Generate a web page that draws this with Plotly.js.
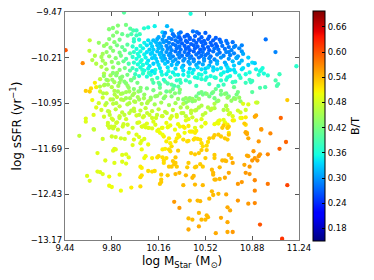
<!DOCTYPE html>
<html>
<head>
<meta charset="utf-8">
<script src="https://cdn.plot.ly/plotly-3.0.1.min.js"></script>
<style>html,body{margin:0;padding:0;background:#fff;}#chart{width:374px;height:280px;}</style>
</head>
<body>
<div id="chart"></div>
<script>
// Each point: [log M_Star, log sSFR, B/T]
const outlierPts = [
[9.445,-10.09,.60],[9.576,-10.30,.57],[9.63,-9.93,.47],[9.70,-9.97,.44],[9.628,-10.10,.47],[9.67,-10.18,.46],
[9.65,-10.25,.46],[9.68,-10.31,.46],[9.67,-10.62,.51],[9.60,-10.75,.53],[9.63,-10.76,.53],[9.64,-10.71,.52],
[9.65,-10.90,.50],[9.68,-11.02,.49],[9.66,-11.14,.49],[9.60,-11.20,.49],[9.60,-11.25,.49],
[9.73,-10.15,.45],[9.73,-10.26,.45],[9.75,-10.31,.45],[9.68,-10.69,.51],[9.663,-11.38,.48]
];
const topPts = [
[9.894,-9.48,.40],[9.909,-9.68,.42],[9.847,-9.69,.43],[9.809,-9.73,.43],[9.779,-9.75,.43],[9.839,-9.80,.43],
[9.942,-9.74,.40],[9.965,-9.77,.39],[9.99,-9.77,.38],[10.048,-9.735,.37],[10.13,-9.70,.35],[10.225,-9.70,.32],
[10.316,-9.82,.29],[10.015,-9.83,.38],[9.922,-9.855,.41],[10.406,-9.50,.36],[10.424,-9.785,.28],[10.454,-9.795,.28],
[10.386,-9.855,.28],[10.984,-9.915,.28],[11.059,-10.12,.29],
[9.81,-9.855,.43],[9.78,-9.91,.43],[9.76,-9.99,.44],[9.82,-9.96,.43],[9.86,-9.92,.42],[9.88,-9.83,.41],
[9.95,-9.83,.39],[9.97,-9.91,.38],[9.99,-9.85,.38],[10.08,-9.72,.36],[10.19,-9.80,.33],[10.26,-9.77,.31],[10.31,-9.88,.29]
];
const greenBandPts = [
[9.74,-10.02,.44],[9.79,-10.05,.43],[9.84,-10.01,.42],[9.88,-10.04,.41],[9.92,-10.00,.40],[9.76,-10.12,.44],
[9.81,-10.10,.43],[9.86,-10.13,.42],[9.90,-10.09,.41],[9.94,-10.14,.39],[9.72,-10.20,.45],[9.78,-10.19,.44],
[9.83,-10.22,.43],[9.87,-10.18,.42],[9.91,-10.23,.40],[9.80,-10.28,.44],[9.85,-10.30,.43],[9.89,-10.27,.41],[9.93,-10.31,.39],
[9.72,-10.36,.46],[9.76,-10.40,.45],[9.81,-10.37,.44],[9.86,-10.41,.43],[9.90,-10.38,.42],[9.94,-10.42,.40],
[9.74,-10.47,.46],[9.79,-10.50,.45],[9.84,-10.46,.44],[9.88,-10.52,.43],[9.92,-10.49,.42],[9.71,-10.56,.47],
[9.77,-10.58,.46],[9.82,-10.61,.45],[9.87,-10.57,.44],[9.91,-10.63,.43],[9.95,-10.58,.42],[9.74,-10.66,.47],
[9.80,-10.69,.46],[9.85,-10.67,.45],[9.93,-10.70,.44],
[9.71,-10.76,.48],[9.76,-10.79,.47],[9.82,-10.75,.46],[9.87,-10.80,.46],[9.91,-10.77,.45],[9.73,-10.86,.48],
[9.79,-10.89,.47],[9.84,-10.85,.47],[9.89,-10.90,.46],[9.94,-10.87,.45],[9.70,-10.95,.48],[9.75,-10.98,.48],
[9.81,-10.96,.47],[9.86,-11.00,.47],[9.92,-10.97,.46],[9.72,-11.06,.48],[9.78,-11.09,.48],[9.83,-11.05,.47],
[9.88,-11.10,.47],[9.95,-11.07,.46],[9.74,-11.17,.48],[9.80,-11.20,.48],[9.86,-11.16,.48],[9.91,-11.21,.48],
[9.77,-11.27,.48],[9.84,-11.26,.48],[9.89,-11.29,.48]
];
const midLeftPts = [
[9.739,-10.51,.44],[9.759,-10.57,.44],[9.746,-10.65,.45],[9.771,-10.65,.45],[9.804,-10.57,.44],[9.834,-10.50,.43],
[9.809,-10.46,.43],[9.864,-10.54,.43],[9.859,-10.62,.44],[9.897,-10.60,.43],[9.922,-10.67,.44],[9.947,-10.57,.42],
[9.972,-10.54,.41],[9.997,-10.62,.42],[10.022,-10.70,.43],[10.005,-10.76,.44],[9.972,-10.79,.45],[9.935,-10.76,.45],
[9.884,-10.79,.45],[9.847,-10.76,.45],[9.822,-10.81,.46],[9.809,-10.89,.46],[9.834,-10.95,.46],[9.872,-10.89,.46],
[9.909,-10.87,.45],[9.935,-10.95,.46],[9.972,-10.92,.46],[10.010,-10.89,.45],[10.047,-10.87,.45],[10.072,-10.95,.46],
[10.098,-10.89,.45],[10.135,-10.84,.44],[10.173,-10.79,.44],[10.211,-10.84,.44],[10.249,-10.76,.43],[10.286,-10.79,.43],
[10.324,-10.73,.43],[9.771,-11.08,.47],[9.784,-11.14,.47],[9.809,-11.22,.48],[9.834,-11.27,.48],[9.859,-11.19,.47],
[9.897,-11.14,.47],[9.935,-11.11,.47],[9.972,-11.08,.47],[10.010,-11.14,.47],[10.047,-11.16,.48],[10.072,-11.11,.47],
[10.110,-11.19,.48],[10.148,-11.14,.47],[10.186,-11.16,.48],[10.223,-11.11,.47],[10.261,-11.16,.48],[10.299,-11.14,.48],
[10.336,-11.11,.47],[9.796,-11.33,.48],[9.847,-11.38,.48],[9.884,-11.33,.48],[9.922,-11.30,.48],[9.960,-11.35,.48],
[9.997,-11.27,.48],[10.035,-11.33,.48],[10.085,-11.35,.49],[10.135,-11.30,.49],[10.186,-11.35,.49],[10.236,-11.33,.49],
[10.286,-11.38,.50],[10.324,-11.33,.50],[9.759,-10.95,.46],[9.734,-10.79,.46],[9.709,-10.68,.46],
[10.035,-10.41,.38],[10.085,-10.46,.38],[10.135,-10.41,.36],[10.186,-10.49,.37],[10.236,-10.43,.36],[10.286,-10.49,.37],
[10.324,-10.57,.38],[10.110,-10.57,.40],[10.161,-10.62,.40],[10.211,-10.60,.40],[10.261,-10.65,.40],[10.311,-10.68,.40]
];
const cyanCorePts = [
[9.97,-9.95,.37],[10.01,-9.92,.36],[10.05,-9.97,.35],[10.08,-9.93,.34],
[9.96,-10.03,.37],[9.99,-10.07,.36],[10.02,-10.02,.36],[10.04,-10.06,.35],[10.07,-10.01,.34],[10.09,-10.08,.33],
[9.97,-10.12,.37],[10.00,-10.15,.36],[10.02,-10.11,.36],[10.05,-10.16,.35],[10.07,-10.12,.34],[10.10,-10.15,.33],
[9.96,-10.20,.37],[9.99,-10.23,.36],[10.01,-10.19,.36],[10.03,-10.25,.36],[10.06,-10.21,.35],[10.08,-10.26,.34],[10.11,-10.22,.33],
[9.97,-10.29,.37],[10.00,-10.32,.36],[10.02,-10.28,.36],[10.04,-10.33,.36],[10.07,-10.30,.35],[10.09,-10.35,.34],[10.12,-10.31,.33],
[9.96,-10.38,.38],[9.99,-10.41,.37],[10.02,-10.37,.36],[10.05,-10.42,.36],[10.08,-10.39,.35],[10.11,-10.43,.34],
[9.98,-10.48,.38],[10.01,-10.51,.37],[10.04,-10.47,.37],[10.07,-10.52,.36],[10.10,-10.49,.36]
];
const blueCorePts = [
[10.21,-9.81,.29],[10.27,-9.83,.28],[10.33,-9.80,.28],[10.38,-9.84,.27],[10.47,-9.82,.27],[10.52,-9.81,.27],
[10.16,-9.88,.31],[10.20,-9.86,.30],[10.24,-9.89,.29],[10.28,-9.86,.28],[10.32,-9.88,.27],[10.36,-9.87,.27],
[10.40,-9.89,.27],[10.44,-9.86,.27],[10.49,-9.88,.27],[10.55,-9.87,.27],[10.60,-9.89,.27],
[10.12,-9.93,.32],[10.15,-9.91,.31],[10.19,-9.92,.30],[10.22,-9.94,.29],[10.26,-9.91,.28],[10.29,-9.93,.28],
[10.33,-9.92,.27],[10.37,-9.94,.27],[10.40,-9.91,.27],[10.43,-9.93,.27],[10.47,-9.92,.27],[10.51,-9.94,.27],
[10.54,-9.91,.27],[10.58,-9.93,.27],[10.63,-9.92,.27],[10.68,-9.94,.28],
[10.10,-9.98,.33],[10.14,-9.96,.32],[10.17,-9.98,.31],[10.20,-9.96,.30],[10.24,-9.97,.29],[10.27,-9.99,.28],
[10.31,-9.96,.28],[10.34,-9.98,.27],[10.38,-9.96,.27],[10.41,-9.99,.27],[10.45,-9.97,.27],[10.49,-9.96,.27],
[10.52,-9.98,.27],[10.56,-9.97,.27],[10.60,-9.99,.27],[10.64,-9.96,.28],[10.69,-9.98,.28],[10.73,-9.96,.28],
[10.11,-10.03,.33],[10.15,-10.01,.32],[10.18,-10.03,.31],[10.22,-10.02,.29],[10.25,-10.04,.29],[10.29,-10.01,.28],
[10.32,-10.03,.28],[10.36,-10.02,.27],[10.39,-10.04,.27],[10.43,-10.01,.27],[10.46,-10.03,.27],[10.50,-10.02,.27],
[10.54,-10.04,.27],[10.57,-10.01,.27],[10.61,-10.03,.27],[10.65,-10.02,.28],[10.70,-10.04,.28],[10.75,-10.02,.29],
[10.12,-10.08,.33],[10.16,-10.06,.32],[10.19,-10.08,.31],[10.23,-10.07,.29],[10.26,-10.09,.29],[10.30,-10.06,.28],
[10.33,-10.08,.28],[10.37,-10.07,.27],[10.40,-10.09,.27],[10.44,-10.06,.27],[10.48,-10.08,.27],[10.51,-10.07,.27],
[10.55,-10.09,.27],[10.59,-10.06,.28],[10.62,-10.08,.28],[10.67,-10.07,.28],[10.72,-10.09,.29],[10.78,-10.06,.29],
[10.11,-10.13,.33],[10.15,-10.11,.32],[10.18,-10.13,.31],[10.22,-10.12,.30],[10.25,-10.14,.29],[10.29,-10.11,.28],
[10.32,-10.13,.28],[10.36,-10.12,.28],[10.39,-10.14,.27],[10.43,-10.11,.27],[10.47,-10.13,.27],[10.50,-10.12,.28],
[10.54,-10.14,.28],[10.58,-10.11,.28],[10.63,-10.13,.28],[10.68,-10.12,.29],[10.74,-10.14,.29],[10.80,-10.11,.30],
[10.13,-10.18,.33],[10.17,-10.16,.32],[10.20,-10.18,.31],[10.24,-10.17,.30],[10.27,-10.19,.29],[10.31,-10.16,.29],
[10.34,-10.18,.28],[10.38,-10.17,.28],[10.41,-10.19,.28],[10.45,-10.16,.28],[10.49,-10.18,.28],[10.52,-10.17,.28],
[10.56,-10.19,.28],[10.61,-10.16,.29],[10.66,-10.18,.29],[10.71,-10.17,.29],[10.77,-10.19,.30],
[10.14,-10.23,.33],[10.18,-10.21,.32],[10.21,-10.23,.31],[10.25,-10.22,.30],[10.29,-10.24,.30],[10.32,-10.21,.29],
[10.36,-10.23,.29],[10.40,-10.22,.29],[10.43,-10.24,.28],[10.47,-10.21,.28],[10.51,-10.23,.29],[10.55,-10.22,.29],
[10.59,-10.24,.29],[10.64,-10.21,.30],[10.70,-10.23,.30],[10.76,-10.22,.31],
[10.15,-10.28,.33],[10.19,-10.26,.32],[10.23,-10.28,.31],[10.27,-10.27,.31],[10.31,-10.29,.30],[10.35,-10.26,.30],
[10.39,-10.28,.30],[10.43,-10.27,.30],[10.47,-10.29,.30],[10.51,-10.26,.30],[10.56,-10.28,.30],[10.61,-10.27,.31],
[10.67,-10.29,.31],[10.73,-10.27,.32],
[10.16,-10.33,.34],[10.21,-10.31,.33],[10.26,-10.33,.32],[10.30,-10.32,.32],[10.35,-10.34,.31],[10.40,-10.31,.31],
[10.45,-10.33,.31],[10.50,-10.32,.31],[10.55,-10.34,.31],[10.61,-10.31,.32],[10.68,-10.33,.32],
[10.17,-10.38,.34],[10.23,-10.37,.34],[10.29,-10.39,.33],[10.34,-10.37,.33],[10.40,-10.39,.33],[10.46,-10.37,.33],
[10.52,-10.39,.33],[10.58,-10.37,.33],[10.64,-10.38,.34]
];
const fringePts = [
[10.35,-10.42,.34],[10.39,-10.45,.35],[10.43,-10.41,.34],[10.47,-10.48,.36],[10.49,-10.40,.34],[10.52,-10.45,.35],
[10.54,-10.37,.34],[10.58,-10.42,.34],[10.61,-10.40,.34],[10.64,-10.48,.36],[10.66,-10.45,.35],[10.69,-10.37,.34],
[10.71,-10.41,.34],[10.74,-10.34,.33],[10.75,-10.45,.35],[10.78,-10.50,.36],[10.80,-10.40,.34],[10.83,-10.48,.36],
[10.44,-10.53,.36],[10.49,-10.56,.37],[10.53,-10.53,.36],[10.59,-10.53,.36],[10.64,-10.58,.37],[10.69,-10.53,.36],
[10.73,-10.61,.38],[10.37,-10.58,.37],[10.40,-10.61,.38],[10.45,-10.67,.38],[10.55,-10.64,.38],[10.62,-10.67,.38],[10.66,-10.65,.38],
[10.80,-10.01,.29],[10.81,-10.15,.31],[10.85,-10.21,.33],[10.88,-10.29,.34],[10.91,-10.40,.35],[10.94,-10.43,.36],
[10.97,-10.47,.36],[11.00,-10.50,.37],[10.96,-10.38,.36],[10.86,-10.45,.36],[10.88,-10.59,.38],[10.87,-10.61,.38],
[10.94,-10.70,.39],[10.98,-10.69,.39],[11.06,-10.58,.39],[11.07,-10.67,.39],[11.09,-10.48,.38],[10.88,-10.77,.40],
[11.22,-10.35,.37],[10.74,-10.04,.29],[10.70,-10.12,.29],[10.76,-10.21,.31],[10.80,-10.26,.32],
[10.13,-10.46,.35],[10.18,-10.44,.35],[10.22,-10.48,.35],[10.27,-10.45,.35],[10.31,-10.49,.35],[10.15,-10.54,.37],
[10.20,-10.57,.37],[10.25,-10.53,.37],[10.30,-10.58,.37],[10.12,-10.62,.39],[10.17,-10.65,.39],[10.23,-10.63,.39],
[10.28,-10.67,.39],[10.33,-10.62,.38]
];
const midRightPts = [
[10.35,-10.49,.35],[10.39,-10.51,.36],[10.42,-10.46,.35],[10.46,-10.54,.36],[10.49,-10.49,.36],[10.52,-10.57,.37],
[10.56,-10.51,.36],[10.60,-10.54,.37],[10.64,-10.49,.36],[10.68,-10.57,.37],[10.71,-10.51,.36],[10.75,-10.60,.38],
[10.79,-10.54,.37],[10.83,-10.62,.38],[10.86,-10.57,.38],[10.93,-10.49,.37],[10.95,-10.41,.36],[11.08,-10.64,.39],
[10.81,-10.38,.34],[10.85,-10.33,.33],[10.90,-10.30,.33],[10.78,-10.30,.32],[10.74,-10.41,.34],[10.69,-10.43,.34],
[10.35,-10.89,.43],[10.37,-10.94,.43],[10.40,-10.87,.43],[10.42,-10.92,.43],[10.45,-10.84,.42],[10.47,-10.79,.41],
[10.50,-10.81,.42],[10.52,-10.79,.41],[10.55,-10.84,.42],[10.57,-10.79,.41],[10.59,-10.87,.42],[10.61,-10.92,.43],
[10.64,-10.81,.42],[10.68,-10.79,.41],[10.70,-10.84,.42],[10.74,-10.87,.43],[10.76,-10.81,.42],[10.79,-10.92,.44],
[10.68,-11.00,.45],[10.66,-11.06,.46],[10.59,-11.03,.46],[10.56,-11.06,.46],[10.52,-11.11,.47],[10.50,-11.14,.47],
[10.45,-11.06,.46],[10.41,-11.11,.47],[10.37,-11.16,.47],[10.35,-11.11,.47],
[10.71,-11.11,.48],[10.73,-11.16,.49],[10.66,-11.22,.49],[10.62,-11.24,.49],[10.61,-11.27,.49],[10.52,-11.27,.49],
[10.49,-11.33,.49],[10.44,-11.35,.49],[10.41,-11.41,.50],[10.36,-11.43,.50],[10.83,-11.30,.52],[10.80,-11.19,.51],
[10.81,-10.96,.49],[10.85,-10.97,.49],[10.91,-10.94,.49],[10.84,-11.43,.53],[10.69,-11.35,.51],[10.70,-11.43,.51]
];
const midPts = [
[10.74,-10.69,.41],[10.77,-10.77,.42],[10.78,-10.86,.44],[10.75,-10.88,.44],[10.72,-10.91,.44],[10.69,-10.86,.44],
[10.67,-10.80,.43],[10.64,-10.75,.42],[10.60,-10.72,.41],[10.58,-10.77,.42],[10.53,-10.80,.43],[10.49,-10.77,.42],
[10.47,-10.88,.44],[10.44,-10.91,.44],[10.42,-10.88,.44],[10.39,-10.91,.44],[10.37,-10.87,.44],[10.35,-10.96,.46],
[10.38,-11.02,.46],[10.41,-11.07,.47],[10.44,-11.07,.47],[10.47,-11.02,.46],[10.49,-10.99,.46],[10.54,-11.02,.46],
[10.57,-11.04,.47],[10.59,-10.96,.46],[10.62,-10.91,.44],[10.68,-10.99,.46],[10.69,-11.06,.47],[10.70,-11.13,.48],
[10.77,-11.07,.48],[10.79,-11.10,.48],[10.83,-11.06,.48],[10.92,-10.94,.47],[10.90,-11.17,.55],[10.83,-11.18,.51],
[10.79,-11.19,.50],[10.74,-11.23,.50],[10.67,-11.26,.50],[10.63,-11.23,.50],[10.59,-11.29,.50],[10.52,-11.28,.50],
[10.49,-11.21,.49],[10.45,-11.23,.49],[10.42,-11.18,.48],[10.39,-11.21,.49],[10.37,-11.23,.49],
[11.15,-10.90,.53],[11.10,-11.19,.59],[10.91,-11.15,.55],[10.82,-11.28,.53],[10.73,-11.23,.51],[10.69,-11.30,.51],
[10.62,-11.28,.50],[10.95,-11.37,.56],[10.83,-11.43,.54],
[9.97,-10.72,.43],[10.02,-10.75,.43],[10.07,-10.71,.42],[10.12,-10.74,.42],[10.17,-10.70,.41],[10.22,-10.76,.41],
[10.27,-10.72,.41],[10.32,-10.78,.42],[9.96,-10.82,.45],[10.00,-10.85,.45],[10.05,-10.81,.44],[10.10,-10.86,.44],
[10.15,-10.83,.44],[10.20,-10.87,.43],[10.26,-10.84,.43],[10.31,-10.88,.44],[9.98,-10.93,.46],[10.03,-10.96,.46],
[10.08,-10.92,.46],[10.13,-10.97,.45],[10.18,-10.94,.45],[10.24,-10.98,.45],[10.29,-10.95,.45],[9.97,-11.04,.47],
[10.02,-11.07,.47],[10.06,-11.03,.47],[10.11,-11.08,.47],[10.16,-11.05,.47],[10.21,-11.09,.47],[10.27,-11.06,.47],
[10.33,-11.02,.46],[9.99,-11.15,.48],[10.04,-11.18,.48],[10.09,-11.14,.48],[10.14,-11.19,.48],[10.19,-11.16,.48],
[10.25,-11.20,.49],[10.30,-11.17,.49],[10.01,-11.26,.49],[10.07,-11.28,.49],[10.12,-11.25,.49],[10.22,-11.27,.50],[10.31,-11.29,.50]
];
const lowerLeftPts = [
[9.55,-11.48,.47],[9.66,-11.37,.47],[9.69,-11.76,.49],[9.75,-11.88,.49],[9.73,-11.53,.48],[9.61,-12.13,.49],
[9.63,-12.21,.49],[9.69,-12.06,.49],[9.71,-12.07,.49],[9.73,-12.10,.49],[9.78,-12.14,.50],[9.78,-12.29,.50],
[9.80,-12.31,.50],[9.87,-12.37,.50],[9.95,-12.32,.51],[10.02,-12.30,.52],[9.86,-12.11,.50],[9.82,-11.92,.49],
[9.88,-11.90,.49],[9.91,-11.93,.49],[9.82,-11.69,.49],[9.83,-11.70,.49],[9.81,-11.72,.49],[9.88,-11.79,.49],
[9.91,-11.78,.49],[9.93,-11.83,.49],[9.96,-11.63,.49],[9.80,-11.49,.48],[9.83,-11.50,.48],[9.87,-11.52,.48],
[9.90,-11.53,.48],[9.77,-11.31,.48],[9.78,-11.35,.48],[9.81,-11.36,.48],[9.82,-11.33,.48],[10.02,-12.15,.52],
[10.03,-12.12,.52],[10.02,-11.98,.51],[10.03,-12.00,.51],[10.03,-11.70,.50],[10.05,-11.84,.50],[10.06,-11.81,.50],
[10.02,-11.60,.49],[10.03,-11.56,.49],[10.05,-11.53,.49],[9.99,-11.46,.49],[10.01,-11.50,.49],[10.08,-12.05,.52],
[10.11,-12.06,.52],[10.13,-12.05,.52],[10.18,-12.11,.53],[10.18,-12.19,.53],[10.17,-12.26,.53],[10.18,-12.23,.53],
[10.20,-11.92,.52],[10.20,-11.88,.52],[10.22,-11.84,.52],[10.19,-11.83,.52],[10.16,-11.81,.52],[10.15,-11.83,.52],
[10.27,-11.89,.53],[10.29,-11.92,.53],[10.30,-11.98,.53],[10.28,-11.94,.53],[10.26,-11.98,.53],[10.24,-11.98,.53],
[10.32,-12.08,.54],[10.29,-12.10,.54],[10.23,-12.12,.53],[10.31,-11.72,.53],[10.29,-11.83,.53],[10.19,-11.70,.51],
[10.21,-11.69,.51],[10.24,-11.70,.52],[10.25,-11.73,.52],[10.26,-11.65,.52],[10.25,-11.60,.51],[10.22,-11.57,.51],
[10.29,-11.57,.52],[10.30,-11.52,.51],[10.32,-11.49,.51],[10.31,-11.46,.51],[10.24,-11.52,.51],[10.20,-11.49,.51],
[10.19,-11.46,.50],[10.17,-11.43,.50],[10.28,-12.55,.56],[10.32,-12.65,.56],[10.03,-11.33,.49],[10.05,-11.31,.49],
[10.06,-11.34,.49],[10.08,-11.35,.49],[10.11,-11.36,.49],[10.15,-11.40,.50],[10.16,-11.38,.50],[10.19,-11.35,.50],
[10.23,-11.34,.50],[10.25,-11.31,.50],[9.93,-11.43,.49],[9.97,-11.54,.49],[10.08,-11.62,.50],[10.11,-11.84,.51]
];
const lowerRightPts = [
[10.35,-11.33,.51],[10.36,-11.35,.51],[10.39,-11.32,.51],[10.40,-11.41,.51],[10.42,-11.41,.51],[10.44,-11.43,.51],
[10.45,-11.40,.51],[10.35,-11.54,.52],[10.38,-11.57,.52],[10.39,-11.56,.52],[10.43,-11.54,.52],[10.44,-11.52,.52],
[10.46,-11.53,.52],[10.48,-11.54,.52],[10.49,-11.60,.52],[10.50,-11.65,.52],[10.53,-11.64,.52],[10.54,-11.58,.52],
[10.55,-11.52,.53],[10.58,-11.51,.53],[10.59,-11.47,.53],[10.62,-11.46,.53],[10.64,-11.49,.53],[10.67,-11.52,.53],
[10.69,-11.54,.53],[10.70,-11.46,.53],[10.65,-11.35,.53],[10.66,-11.31,.53],[10.70,-11.33,.53],[10.69,-11.35,.53],
[10.83,-11.42,.55],[10.84,-11.45,.55],[10.85,-11.52,.55],[10.93,-11.57,.56],[10.95,-11.38,.56],[11.02,-11.44,.57],
[11.09,-11.69,.59],[11.14,-11.58,.59],[11.00,-11.78,.57],[10.94,-11.78,.56],[10.93,-11.81,.56],[10.90,-11.84,.56],
[10.89,-11.73,.56],[10.88,-11.88,.56],[10.92,-11.88,.56],[10.85,-11.81,.55],[10.84,-11.80,.55],[10.86,-11.98,.56],
[10.82,-11.95,.55],[10.83,-12.08,.56],[10.80,-12.23,.56],[10.77,-12.26,.56],[10.73,-11.92,.55],[10.70,-11.79,.54],
[10.72,-11.84,.54],[10.68,-11.89,.54],[10.65,-11.88,.54],[10.67,-11.88,.54],[10.63,-11.99,.54],[10.59,-11.79,.53],
[10.59,-11.84,.53],[10.58,-12.08,.54],[10.57,-12.03,.54],[10.52,-11.84,.53],[10.50,-11.98,.53],[10.48,-11.94,.53],
[10.45,-11.98,.53],[10.44,-11.99,.53],[10.39,-11.92,.53],[10.38,-11.99,.53],[10.41,-11.76,.53],[10.44,-11.78,.53],
[10.47,-11.76,.53],[10.49,-11.71,.53],[10.53,-11.71,.53],[10.70,-12.08,.55],[10.67,-12.16,.55],[10.63,-12.18,.54],
[10.60,-12.19,.54],[10.59,-12.19,.54],[10.58,-12.11,.54],[10.50,-12.28,.54],[10.44,-12.27,.54],[10.42,-12.16,.54],
[10.43,-12.13,.54],[10.37,-12.12,.54],[10.35,-12.28,.54],[11.00,-12.26,.58],[11.15,-12.28,.61],[10.90,-12.20,.57],
[10.86,-12.10,.56],[10.90,-12.37,.57],[10.90,-12.57,.57],[10.85,-12.58,.56],[10.77,-12.53,.56],[10.69,-12.64,.55],
[10.71,-12.69,.55],[10.69,-12.88,.55],[10.73,-13.04,.56],[10.69,-13.04,.55],[10.60,-13.06,.55],[10.64,-12.81,.55],
[10.47,-12.73,.54],[10.47,-12.95,.55],[10.53,-12.77,.54],[10.54,-12.80,.54],[10.52,-12.84,.54],[10.49,-12.84,.54],
[10.42,-12.84,.54],[10.39,-12.82,.54],[10.39,-13.00,.55],[10.46,-12.53,.54],[10.40,-12.53,.54],[10.48,-12.54,.54],
[10.57,-12.38,.54],[10.58,-12.44,.54],[10.62,-12.42,.54],[10.55,-12.50,.54],[10.94,-12.92,.60],[11.11,-13.15,.62],
[10.68,-12.43,.55]
];

const groups = [outlierPts, topPts, greenBandPts, midLeftPts, cyanCorePts, blueCorePts, fringePts, midRightPts, midPts, lowerLeftPts, lowerRightPts];
const allPts = [].concat(...groups);
const logMass = allPts.map(p => p[0]);
const logSSFR = allPts.map(p => p[1]);
const bulgeToTotal = allPts.map(p => p[2]);

const xTicks = [9.44, 9.80, 10.16, 10.52, 10.88, 11.24];
const yTicks = [-9.47, -10.21, -10.95, -11.69, -12.43, -13.17];
const cbTicks = [0.18, 0.24, 0.30, 0.36, 0.42, 0.48, 0.54, 0.60, 0.66];

const jet = [
  [0, 'rgb(0,0,128)'], [0.11, 'rgb(0,0,255)'], [0.125, 'rgb(0,0,255)'],
  [0.34, 'rgb(0,219,255)'], [0.375, 'rgb(20,255,226)'], [0.5, 'rgb(124,255,123)'],
  [0.64, 'rgb(238,255,8)'], [0.66, 'rgb(255,236,0)'], [0.89, 'rgb(255,19,0)'],
  [0.91, 'rgb(232,0,0)'], [1, 'rgb(128,0,0)']
];

const FONT = 'DejaVu Sans, sans-serif';
const trace = {
  type: 'scatter', mode: 'markers',
  x: logMass, y: logSSFR,
  marker: {
    size: 4.3, color: bulgeToTotal, colorscale: jet, cmin: 0.15, cmax: 0.698,
    line: {width: 0},
    showscale: true,
    colorbar: {
      x: 1.0586, xanchor: 'left', xpad: 0, ypad: 0,
      y: 0.5, yanchor: 'middle', len: 230, lenmode: 'pixels',
      thickness: 12, outlinewidth: 1, outlinecolor: '#000',
      tickvals: cbTicks, tickformat: '.2f', ticks: 'inside', ticklen: 3, tickcolor: '#000',
      tickfont: {family: FONT, size: 8.5, color: '#000'},
      title: {text: 'B/T', side: 'right', font: {family: FONT, size: 11, color: '#000'}}
    }
  },
  hoverinfo: 'skip'
};

const axisCommon = {
  showline: true, linecolor: '#7f7f7f', linewidth: 1.2, mirror: 'allticks',
  ticks: 'inside', ticklen: 4, tickcolor: '#555', tickwidth: 1,
  showgrid: false, zeroline: false,
  tickfont: {family: FONT, size: 8.5, color: '#000'}
};

const layout = {
  width: 374, height: 280,
  margin: {l: 65, r: 70, t: 12, b: 40},
  paper_bgcolor: '#fff', plot_bgcolor: '#fff',
  showlegend: false,
  xaxis: Object.assign({}, axisCommon, {
    range: [9.44, 11.24], tickvals: xTicks, tickformat: '.2f',
    title: {text: 'log M<sub>Star</sub> (M<sub>⊙</sub>)', font: {family: FONT, size: 12, color: '#000'}, standoff: 4}
  }),
  yaxis: Object.assign({}, axisCommon, {
    range: [-13.17, -9.47], tickvals: yTicks, tickformat: '.2f',
    title: {text: 'log sSFR (yr<sup>−1</sup>)', font: {family: FONT, size: 12, color: '#000'}, standoff: 6}
  })
};

Plotly.newPlot('chart', [trace], layout, {staticPlot: true, displayModeBar: false});
</script>
</body>
</html>
